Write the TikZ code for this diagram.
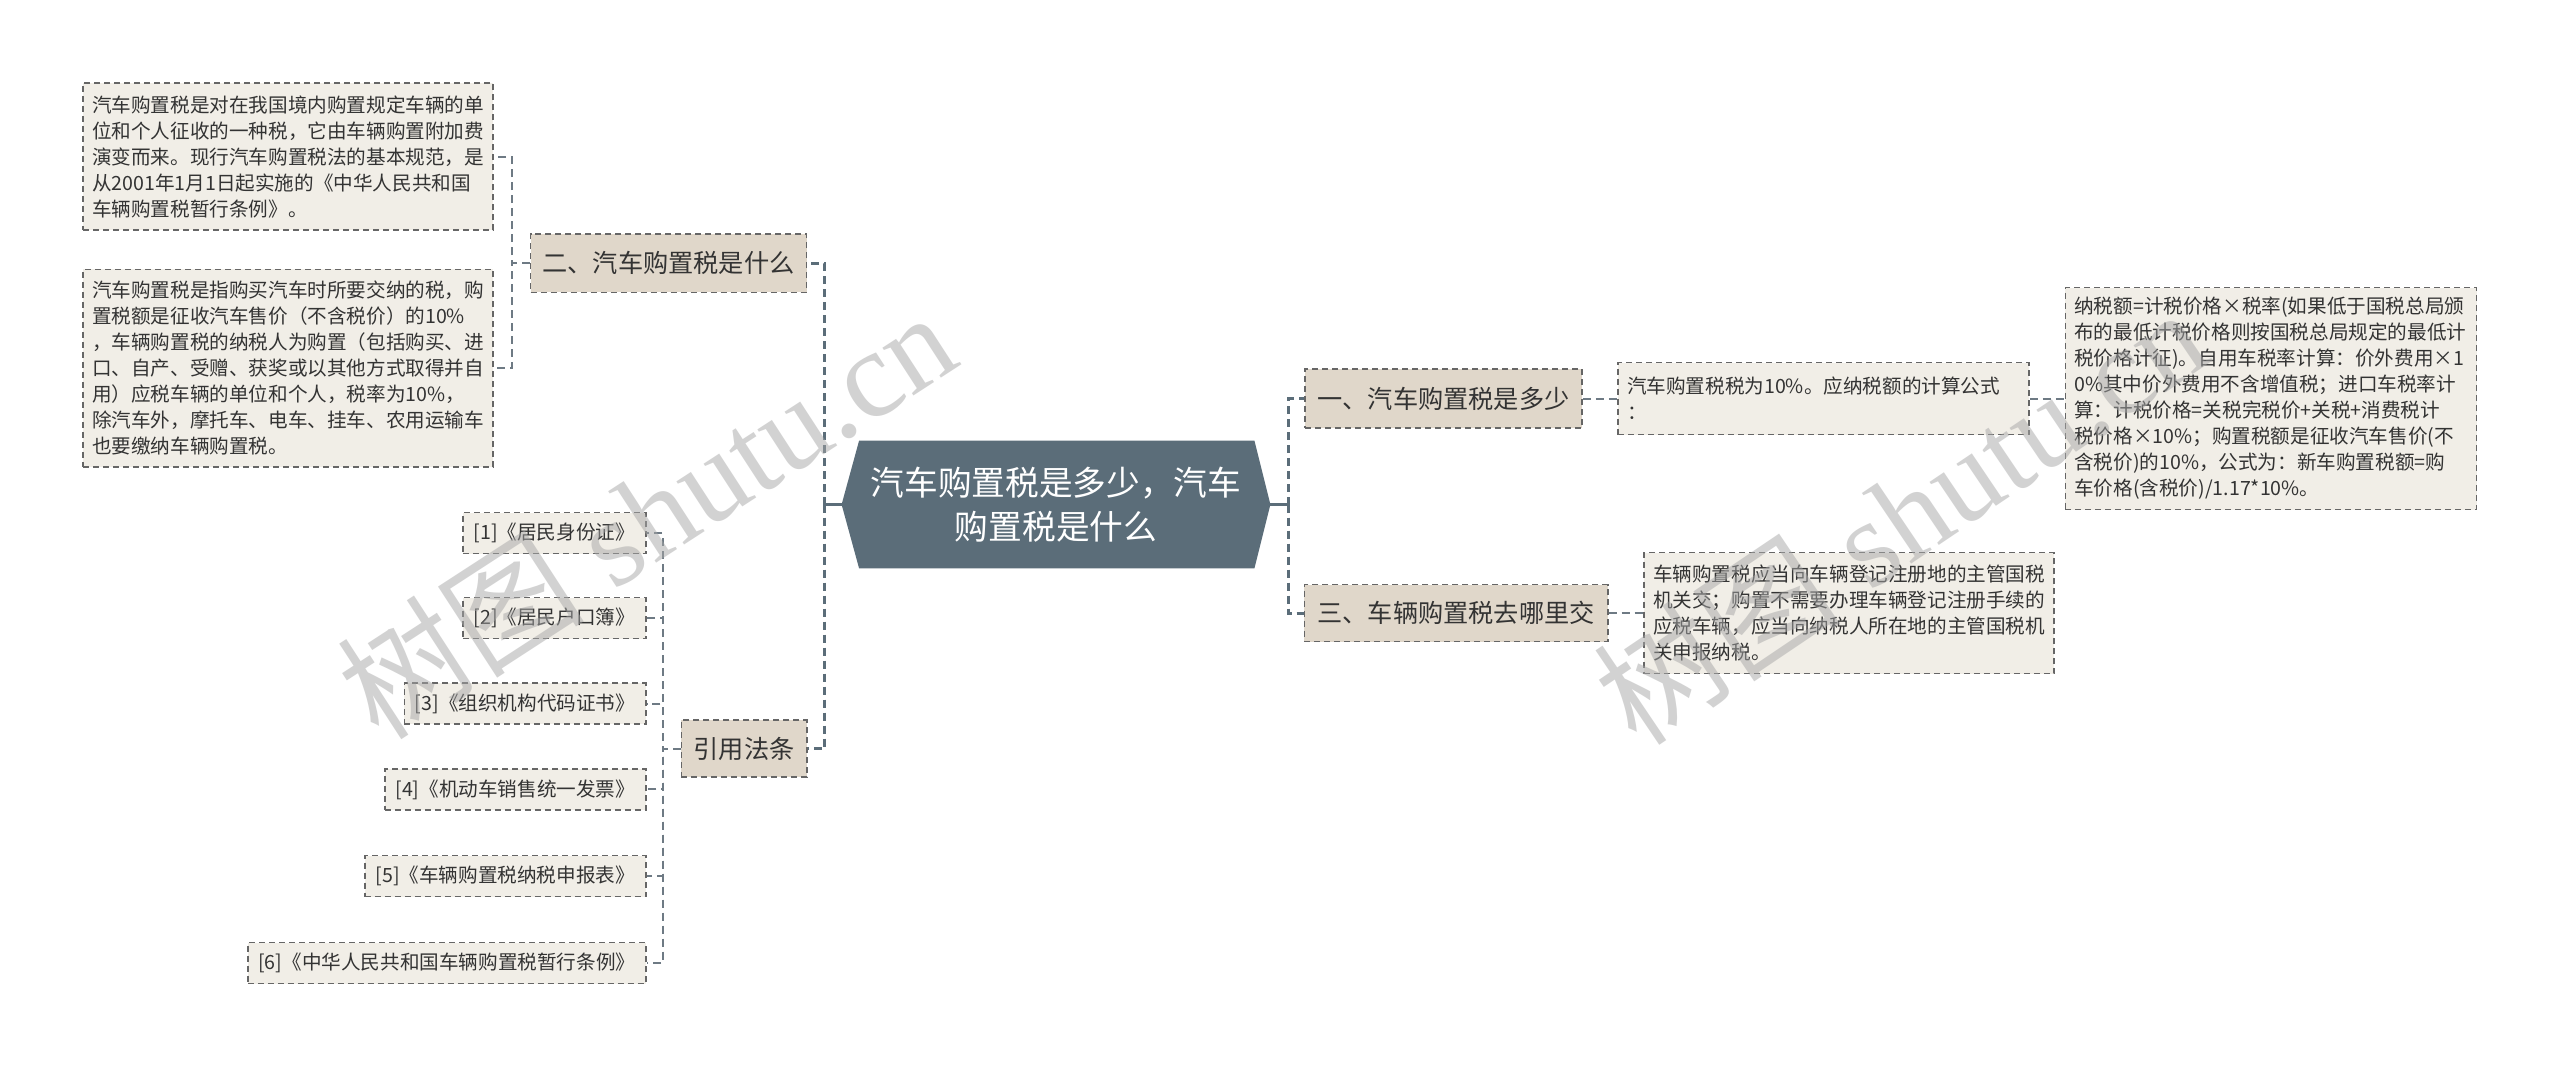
\documentclass[tikz,border=0pt]{standalone}
\usepackage{fontspec}
\setmainfont{Noto Sans CJK SC}
\newfontfamily\wmfont{Liberation Serif}
\usetikzlibrary{calc,backgrounds}
\definecolor{rootc}{HTML}{5B6D79}
\definecolor{lvone}{HTML}{E0D7CA}
\definecolor{leafc}{HTML}{F1EEE7}
\definecolor{bordc}{HTML}{666666}
\definecolor{txtc}{HTML}{333333}
\definecolor{thinc}{HTML}{6E7A84}
\definecolor{wmc}{HTML}{A6A6A6}
\tikzset{
  boxbase/.style={draw=bordc, line width=0.75pt, dash pattern=on 3pt off 2pt, text=txtc, inner ysep=0pt},
  lvbox/.style={boxbase, fill=lvone, align=center, inner xsep=0pt,
    font=\fontsize{12.6pt}{15pt}\selectfont},
  leafbox/.style={boxbase, fill=leafc, align=left, inner xsep=4.5pt,
    font=\fontsize{9.8pt}{13pt}\selectfont},
  refbox/.style={boxbase, fill=leafc, align=center, inner xsep=0pt, anchor=east,
    minimum height=20.5pt, font=\fontsize{9.8pt}{13pt}\selectfont},
  rootbox/.style={text=white, align=center, inner sep=0pt,
    minimum width=214pt, minimum height=63.5pt,
    font=\fontsize{16.85pt}{22pt}\selectfont},
  rootstub/.style={draw=rootc, line width=1.6pt},
  thickconn/.style={draw=rootc, line width=1.5pt, dash pattern=on 4pt off 2.5pt},
  thinconn/.style={draw=thinc, line width=1pt, dash pattern=on 4pt off 2.5pt},
  wm/.style={text=wmc, opacity=0.5, inner sep=0pt, font=\fontsize{62pt}{62pt}\selectfont}
}
\begin{document}
\begin{tikzpicture}[x=0.5pt,y=-0.5pt]
\useasboundingbox (0,0) rectangle (2560,1071);

% root
\node[rootbox] (root) at (1056,504.5) {汽车购置税是多少，汽车\\购置税是什么};
\begin{pgfonlayer}{background}
\fill[white] (0,0) rectangle (2560,1071);
\fill[rootc] (root.west) -- ($(root.north west)+(17.5,0)$) -- ($(root.north east)+(-16,0)$)
  -- (root.east) -- ($(root.south east)+(-16,0)$) -- ($(root.south west)+(17.5,0)$) -- cycle;
\end{pgfonlayer}

% level one
\node[lvbox, minimum width=138pt, minimum height=29.25pt] (er) at (668.5,263) {二、汽车购置税是什么};
\node[lvbox, minimum width=62.75pt, minimum height=28.5pt] (yin) at (744,748.5) {引用法条};
\node[lvbox, minimum width=138.5pt, minimum height=29.5pt] (yi) at (1443.5,398.5) {一、汽车购置税是多少};
\node[lvbox, minimum width=151.75pt, minimum height=28.5pt] (san) at (1456,613) {三、车辆购置税去哪里交};

% leaves of er
\node[leafbox, text width=196pt, minimum height=73.5pt] (la) at (288,156.7) {汽车购置税是对在我国境内购置规定车辆的单\\位和个人征收的一种税，它由车辆购置附加费\\演变而来。现行汽车购置税法的基本规范，是\\从2001年1月1日起实施的《中华人民共和国\\车辆购置税暂行条例》。};
\node[leafbox, text width=196pt, minimum height=98.75pt] (lb) at (288,368) {汽车购置税是指购买汽车时所要交纳的税，购\\置税额是征收汽车售价（不含税价）的10\%\\，车辆购置税的纳税人为购置（包括购买、进\\口、自产、受赠、获奖或以其他方式取得并自\\用）应税车辆的单位和个人，税率为10\%，\\除汽车外，摩托车、电车、挂车、农用运输车\\也要缴纳车辆购置税。};

% references
\node[refbox, minimum width=91.5pt] (r1) at (646.5,533) {[1]《居民身份证》};
\node[refbox, minimum width=91.5pt] (r2) at (646.5,618) {[2]《居民户口簿》};
\node[refbox, minimum width=120.75pt] (r3) at (646.5,703.7) {[3]《组织机构代码证书》};
\node[refbox, minimum width=130.5pt] (r4) at (646.5,789.4) {[4]《机动车销售统一发票》};
\node[refbox, minimum width=140.5pt] (r5) at (646.5,876) {[5]《车辆购置税纳税申报表》};
\node[refbox, minimum width=199pt] (r6) at (646.5,963) {[6]《中华人民共和国车辆购置税暂行条例》};

% right leaves
\node[leafbox, text width=196.5pt, minimum height=36pt] (l1) at (1823.5,398.5) {汽车购置税税为10\%。应纳税额的计算公式\\：};
\node[leafbox, text width=196.7pt, minimum height=111pt] (l2) at (2271,398.5) {纳税额=计税价格×税率(如果低于国税总局颁\\布的最低计税价格则按国税总局规定的最低计\\税价格计征)。自用车税率计算：价外费用×1\\0\%其中价外费用不含增值税；进口车税率计\\算：计税价格=关税完税价+关税+消费税计\\税价格×10\%；购置税额是征收汽车售价(不\\含税价)的10\%，公式为：新车购置税额=购\\车价格(含税价)/1.17*10\%。};
\node[leafbox, text width=196pt, minimum height=60.5pt] (l3) at (1849,613) {车辆购置税应当向车辆登记注册地的主管国税\\机关交；购置不需要办理车辆登记注册手续的\\应税车辆，应当向纳税人所在地的主管国税机\\关申报纳税。};

% root connectors
\coordinate (lv) at (824.5,504.5);
\coordinate (rv) at (1288,504.5);
\draw[rootstub] (root.west) -- (lv);
\draw[rootstub] (root.east) -- (rv);
\draw[thickconn] (lv) |- (er.east);
\draw[thickconn] (lv) |- (yin.east);
\draw[thickconn] (rv) |- (yi.west);
\draw[thickconn] (rv) |- (san.west);

% thin connectors
\draw[thinconn] (er.west) -- ++(-18,0) |- (la.east);
\draw[thinconn] (er.west) -- ++(-18,0) |- (lb.east);
\foreach \r in {r1,r2,r3,r4,r5,r6}{
  \draw[thinconn] (yin.west) -- ++(-18,0) |- (\r.east);
}
\draw[thinconn] (yi.east) -- (l1.west);
\draw[thinconn] (l1.east) -- (l2.west);
\draw[thinconn] (san.east) -- (l3.west);

% watermarks
\node[wm, rotate=33] (wma) at (646,514) {树图{\wmfont\ shutu.cn}};
\node[wm, rotate=34] (wmb) at (1900,515) {树图{\wmfont\ shutu.cn}};
\end{tikzpicture}
\end{document}
